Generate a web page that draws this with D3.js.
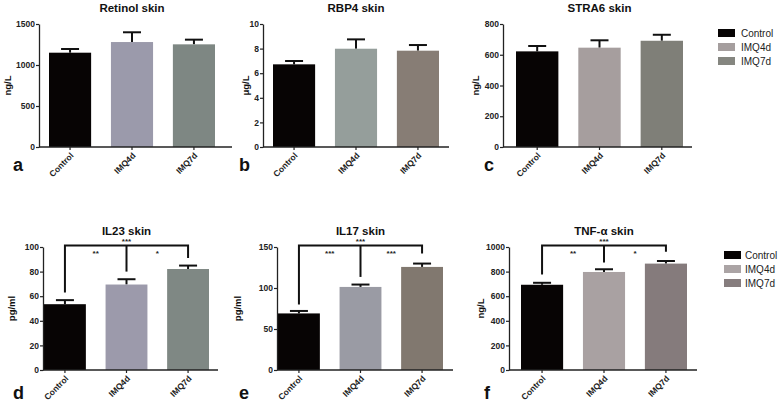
<!DOCTYPE html>
<html><head><meta charset="utf-8">
<script src="https://cdn.jsdelivr.net/npm/d3@7"></script>
<style>
html,body{margin:0;padding:0;background:#fff;}
svg{display:block;font-family:Arial,"Liberation Sans",sans-serif;}
</style></head>
<body><svg id="c" width="778" height="404"></svg>
<script>
// ---- data ----
const categories = ["Control", "IMQ4d", "IMQ7d"];
const retinolMean = [1150, 1280, 1252];
const retinolErr  = [45, 119, 57];
const rbp4Mean = [6.72, 7.99, 7.83];
const rbp4Err  = [0.27, 0.76, 0.46];
const stra6Mean = [622, 646, 691];
const stra6Err  = [35, 48, 39];
const il23Mean = [53.5, 69.5, 82.1];
const il23Err  = [3.3, 4.3, 2.8];
const il17Mean = [69, 101.3, 125.7];
const il17Err  = [3, 2.9, 4.1];
const tnfMean = [693, 797, 865];
const tnfErr  = [16, 22, 21];
const retinolTicks = [0, 500, 1000, 1500];
const rbp4Ticks = [0, 2, 4, 6, 8, 10];
const stra6Ticks = [0, 200, 400, 600, 800];
const il23Ticks = [0, 20, 40, 60, 80, 100];
const il17Ticks = [0, 50, 100, 150];
const tnfTicks = [0, 200, 400, 600, 800, 1000];
const il23Stars = ["**", "***", "*"];
const il17Stars = ["***", "***", "***"];
const tnfStars = ["**", "***", "*"];
// bracket leg ends (data units): [control, IMQ4d(middle), IMQ7d]
const il23Legs = [63, 80, 91];
const il17Legs = [80, 113.5, 142];
const tnfLegs = [776, 873, 962];

// ---- layout ----
const panels = [
  {title:"Retinol skin", unit:"ng/L", letter:"a", mean:retinolMean, err:retinolErr, ticks:retinolTicks,
   ax0:39, ax1:232, b0:49, b1:215, top:24, bot:147, ylx:8, lx:13, ly:171,
   colors:["#070404","#9b9aab","#7e8783"]},
  {title:"RBP4 skin", unit:"μg/L", letter:"b", mean:rbp4Mean, err:rbp4Err, ticks:rbp4Ticks,
   ax0:263, ax1:449, b0:273, b1:439, top:24, bot:147, ylx:246, lx:239, ly:171,
   colors:["#070404","#959e9b","#877d75"]},
  {title:"STRA6 skin", unit:"ng/L", letter:"c", mean:stra6Mean, err:stra6Err, ticks:stra6Ticks,
   ax0:503, ax1:692, b0:516, b1:683, top:24, bot:147, ylx:476, lx:484, ly:171,
   colors:["#070404","#a69e9e","#7f7f78"]},
  {title:"IL23 skin", unit:"pg/ml", letter:"d", mean:il23Mean, err:il23Err, ticks:il23Ticks,
   ax0:43, ax1:218, b0:44, b1:209, top:247, bot:370, ylx:12, lx:13, ly:399,
   colors:["#070404","#9c9aab","#7f8884"], stars:il23Stars, legs:il23Legs},
  {title:"IL17 skin", unit:"pg/ml", letter:"e", mean:il17Mean, err:il17Err, ticks:il17Ticks,
   ax0:277, ax1:453, b0:278, b1:443, top:247, bot:370, ylx:238, lx:239, ly:399,
   colors:["#070404","#9a9ba4","#81786f"], stars:il17Stars, legs:il17Legs},
  {title:"TNF-α skin", unit:"ng/L", letter:"f", mean:tnfMean, err:tnfErr, ticks:tnfTicks,
   ax0:509, ax1:697, b0:521, b1:687, top:247, bot:370, ylx:481, lx:484, ly:399,
   colors:["#070404","#a9a1a2","#857b7c"], stars:tnfStars, legs:tnfLegs}
];
const legends = [
  {x:718, y:33, tx:23, colors:["#070404","#a59e9e","#858680"]},
  {x:724, y:255, tx:21, colors:["#070404","#aba4a5","#867d7e"]}
];

const svg = d3.select("#c");
const axisColor = "#222";

panels.forEach(p => {
  const g = svg.append("g");
  const ymax = p.ticks[p.ticks.length - 1];
  const y = d3.scaleLinear().domain([0, ymax]).range([p.bot, p.top]);
  const x = d3.scaleBand().domain(categories).range([p.b0, p.b1]).paddingInner(0.32).paddingOuter(0);
  const data = categories.map((c, i) => ({c, m:p.mean[i], e:p.err[i], col:p.colors[i]}));

  // error bars (upper only)
  g.selectAll(".eb").data(data).enter().append("line")
    .attr("x1", d => x(d.c) + x.bandwidth()/2).attr("x2", d => x(d.c) + x.bandwidth()/2)
    .attr("y1", d => y(d.m)).attr("y2", d => y(d.m + d.e))
    .attr("stroke", "#111").attr("stroke-width", 2);
  g.selectAll(".cap").data(data).enter().append("line")
    .attr("x1", d => x(d.c) + x.bandwidth()/2 - 9).attr("x2", d => x(d.c) + x.bandwidth()/2 + 9)
    .attr("y1", d => y(d.m + d.e)).attr("y2", d => y(d.m + d.e))
    .attr("stroke", "#111").attr("stroke-width", 2);
  // bars
  g.selectAll(".bar").data(data).enter().append("rect")
    .attr("x", d => x(d.c)).attr("width", x.bandwidth())
    .attr("y", d => y(d.m)).attr("height", d => y(0) - y(d.m))
    .attr("fill", d => d.col);

  // y axis
  const yAxis = d3.axisLeft(y).tickValues(p.ticks).tickFormat(d3.format("d"))
    .tickSize(3).tickSizeOuter(0).tickPadding(1);
  const ya = g.append("g").attr("transform", `translate(${p.ax0},0)`).call(yAxis);
  ya.select(".domain").attr("stroke", axisColor).attr("stroke-width", 1.3);
  ya.selectAll(".tick line").attr("stroke", axisColor).attr("stroke-width", 1.2);
  ya.selectAll(".tick text").attr("font-size", 8.5).attr("font-weight", "bold").attr("fill", "#222")
    .attr("font-family", "Arial, 'Liberation Sans', sans-serif");

  // x axis line spanning full width
  g.append("line").attr("x1", p.ax0).attr("x2", p.ax1).attr("y1", p.bot).attr("y2", p.bot)
    .attr("stroke", axisColor).attr("stroke-width", 1.3);
  const xAxis = d3.axisBottom(x).tickSize(3).tickSizeOuter(0);
  const xa = g.append("g").attr("transform", `translate(0,${p.bot})`).call(xAxis);
  xa.select(".domain").remove();
  xa.selectAll(".tick line").attr("stroke", axisColor).attr("stroke-width", 1.2);
  xa.selectAll(".tick text")
    .attr("font-size", 8.5).attr("font-weight", "bold").attr("fill", "#222")
    .attr("font-family", "Arial, 'Liberation Sans', sans-serif")
    .attr("text-anchor", "end").attr("dy", "0.35em")
    .attr("x", 0).attr("y", 0)
    .attr("transform", "translate(2,7) rotate(-45)");

  // title
  g.append("text").attr("x", (p.b0 + p.b1)/2).attr("y", p.top - 12)
    .attr("text-anchor", "middle").attr("font-size", 11.5).attr("font-weight", "bold")
    .attr("fill", "#111").text(p.title);
  // y label
  g.append("text").attr("transform", `translate(${p.ylx + 3},${(p.top + p.bot)/2}) rotate(-90)`)
    .attr("text-anchor", "middle").attr("font-size", 9.5).attr("font-weight", "bold")
    .attr("fill", "#111").text(p.unit);
  // panel letter
  g.append("text").attr("x", p.lx).attr("y", p.ly).attr("font-size", 18).attr("font-weight", "bold")
    .attr("fill", "#111").text(p.letter);

  // significance brackets
  if (p.stars) {
    const cx = categories.map(c => x(c) + x.bandwidth()/2);
    const ytop = y(ymax) - 1.5;
    g.append("path")
      .attr("d", `M${cx[0]},${y(p.legs[0])} V${ytop} H${cx[2]} V${y(p.legs[2])}`)
      .attr("fill", "none").attr("stroke", "#111").attr("stroke-width", 2);
    g.append("line").attr("x1", cx[1]).attr("x2", cx[1]).attr("y1", ytop).attr("y2", y(p.legs[1]))
      .attr("stroke", "#111").attr("stroke-width", 2);
    g.append("text").attr("x", cx[1]).attr("y", ytop - 2).attr("text-anchor", "middle")
      .attr("font-size", 8).attr("font-weight", "bold").attr("fill", "#222").text(p.stars[1]);
    g.append("text").attr("x", (cx[0] + cx[1])/2).attr("y", ytop + 10).attr("text-anchor", "middle")
      .attr("font-size", 8).attr("font-weight", "bold").attr("fill", "#222").text(p.stars[0]);
    g.append("text").attr("x", (cx[1] + cx[2])/2).attr("y", ytop + 10).attr("text-anchor", "middle")
      .attr("font-size", 8).attr("font-weight", "bold").attr("fill", "#222").text(p.stars[2]);
  }
});

// legends
legends.forEach(L => {
  const g = svg.append("g").attr("transform", `translate(${L.x},${L.y})`);
  const items = g.selectAll(".it").data(categories).enter().append("g")
    .attr("transform", (d, i) => `translate(0,${i * 14})`);
  items.append("rect").attr("x", 0).attr("y", -4).attr("width", 17).attr("height", 8)
    .attr("fill", (d, i) => L.colors[i]);
  items.append("text").attr("x", L.tx).attr("y", 0).attr("dy", "0.35em")
    .attr("font-size", 10).attr("fill", "#222").text(d => d);
});
</script></body></html>
